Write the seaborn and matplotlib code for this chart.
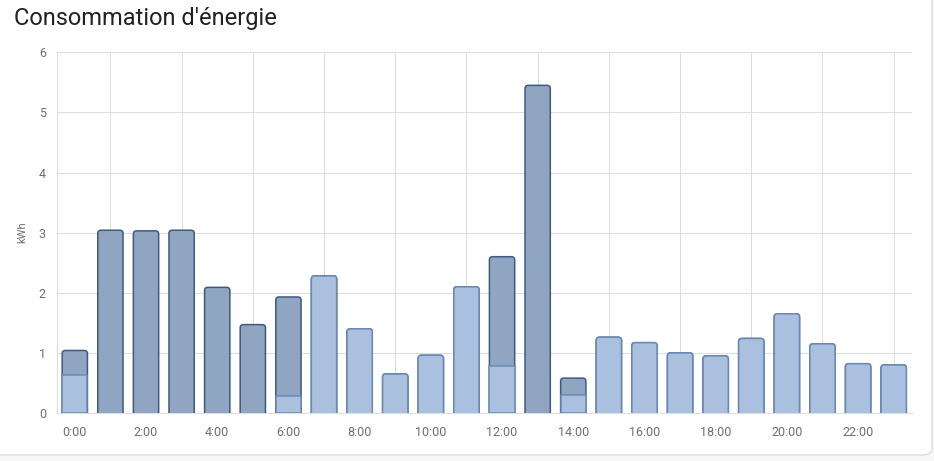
import matplotlib
matplotlib.use("Agg")
import matplotlib.pyplot as plt
from matplotlib.patches import FancyBboxPatch
import numpy as np
import pandas as pd
import seaborn as sns

heures = list(range(24))
# partie claire (bas de la barre) et partie foncée par heure, en kWh
conso_claire = [0.64, 0, 0, 0, 0, 0, 0.28, 2.28, 1.40, 0.65, 0.96, 2.10,
                0.79, 0, 0.30, 1.26, 1.17, 1.00, 0.95, 1.24, 1.65, 1.15, 0.82, 0.80]
conso_foncee = [0.40, 3.04, 3.03, 3.04, 2.09, 1.47, 1.65, 0, 0, 0, 0, 0,
                1.81, 5.45, 0.28, 0, 0, 0, 0, 0, 0, 0, 0, 0]
etiquettes = [f"{h}:00" for h in heures]

df = pd.DataFrame({"heure": heures, "claire": conso_claire, "foncee": conso_foncee})
df["total"] = df["claire"] + df["foncee"]

sns.set_style("white")
plt.rcParams["font.family"] = ["Roboto", "DejaVu Sans"]

fig = plt.figure(figsize=(9.34, 4.61), dpi=100)
W, H = 934, 461
ax = fig.add_axes([57 / W, (H - 413) / H, (911.5 - 57) / W, (413 - 52.3) / H])

# carte en fond (bord visible seulement à droite et en bas)
carte = FancyBboxPatch((-20 / W, 6 / H), (932 + 20) / W, (H + 20) / H,
                       boxstyle="round,pad=0,rounding_size=0.012",
                       transform=fig.transFigure, facecolor="white",
                       edgecolor="#dcdcdc", linewidth=1, zorder=-10)
fig.patches.append(carte)

sns.barplot(data=df, x="heure", y="total", color="#8fa5c2", edgecolor="#3f5a7e",
            linewidth=1.1, width=0.71, saturation=1, ax=ax, zorder=3)
sns.barplot(data=df, x="heure", y="claire", color="#a9c0df", edgecolor="#6a8ab5",
            linewidth=1.1, width=0.71, saturation=1, ax=ax, zorder=4)

# coins arrondis en haut des barres
aspect = (35.6 / 60.1)
for i, cont in enumerate(ax.containers):
    for k, rect in enumerate(cont.patches):
        h = rect.get_height()
        if h <= 0:
            rect.remove()
            continue
        arrondi = (i == 0) or (conso_foncee[k] == 0)
        if not arrondi:
            continue
        x, w = rect.get_x(), rect.get_width()
        boite = FancyBboxPatch((x, -0.2), w, h + 0.2,
                               boxstyle="round,pad=0,rounding_size=0.09",
                               mutation_aspect=aspect,
                               facecolor=rect.get_facecolor(),
                               edgecolor=rect.get_edgecolor(),
                               linewidth=rect.get_linewidth(),
                               zorder=rect.get_zorder(), clip_on=True)
        ax.add_patch(boite)
        rect.remove()

ax.set_xlim(-0.5, 23.5)
ax.set_ylim(0, 6)
ax.set_yticks(range(7))
ax.set_xticks(range(0, 24, 2))
ax.set_xticklabels(etiquettes[::2])
ax.set_xticks(range(1, 24, 2), minor=True)
ax.grid(True, which="minor", axis="x", color="#dedede", linewidth=0.8, zorder=0)
ax.grid(True, which="major", axis="y", color="#dedede", linewidth=0.8, zorder=0)
ax.grid(False, which="major", axis="x")
ax.tick_params(axis="x", which="major", length=0, pad=9, labelsize=9, labelcolor="#6e6e6e")
ax.tick_params(axis="x", which="minor", length=6, color="#dedede")
ax.tick_params(axis="y", length=6, color="#dedede", pad=2, labelsize=9, labelcolor="#6e6e6e")
for s in ["top", "right"]:
    ax.spines[s].set_visible(False)
ax.spines["left"].set_color("#dedede")
ax.spines["bottom"].set_color("#dedede")
ax.set_xlabel("")
ax.set_ylabel("kWh", fontsize=8, color="#6e6e6e", labelpad=8)

fig.text(14 / W, 1 - 18 / H, "Consommation d'énergie", fontsize=17,
         color="#212121", va="center", ha="left")

fig.savefig("out.png", dpi=100, facecolor="#f7f7f7")
